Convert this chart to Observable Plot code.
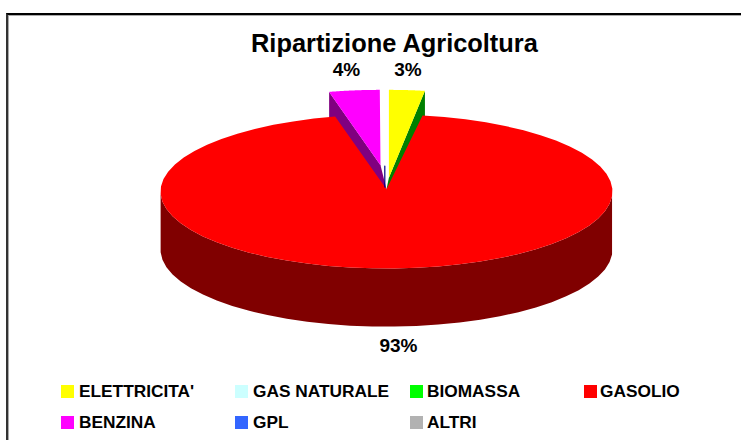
<!DOCTYPE html>
<html><head><meta charset="utf-8">
<script src="https://cdn.jsdelivr.net/npm/d3@7"></script>
<script src="https://cdn.jsdelivr.net/npm/@observablehq/plot@0.6"></script>
<style>
html,body{margin:0;padding:0;background:#fff;overflow:hidden}
body{width:741px;height:440px;position:relative;font-family:"Liberation Sans",Arial,sans-serif}
#frame{position:absolute;left:6px;top:13px;width:735px;height:427px;border-left:2px solid #333;border-top:2px solid #000;box-sizing:border-box;box-shadow:inset 1px 1px 0 #aaa}
#chart{position:absolute;left:0;top:0}
#legend{position:absolute;left:0;top:0;width:741px;height:440px;pointer-events:none}
.it{position:absolute;font-weight:bold;font-size:17.3px;line-height:18px;white-space:nowrap}
.sw{position:absolute;width:13px;height:13px}
</style></head><body>
<div id="frame"></div><div id="chart"></div><div id="legend"></div>
<script>
const categories=["ELETTRICITA'","GAS NATURALE","BIOMASSA","GASOLIO","BENZINA","GPL","ALTRI"];
const values=[2.55,0,0,93.8,3.6,0.05,0];
const faceColors=["#ffff00","#ccffff","#00ff00","#ff0000","#ff00ff","#3366ff","#b2b2b2"];
const wallColors=["#008000","#669999","#008000","#800000","#800080","#000080","#666666"];

const depth=0.755, W=741, H=440;
const explode={0:{dx:0.0106,dy:0.32,ay:0.18},4:{dx:-0.0265,dy:0.32,ay:0.34},5:{dx:-0.0075,dy:0.32,ay:0.33}};
const tip=[0,0.03];
const arcs=d3.pie().sort(null).value(d=>d)(values);
const pt=(a,o)=>[o.dx+Math.sin(a),o.dy+Math.cos(a)];
const polys=[];let pid=0;
function add(points,fill){pid++;points.forEach(p=>polys.push({x:p[0],y:p[1],id:pid,fill}));}
function rimOf(i,o){
  const a=arcs[i];
  const steps=d3.range(0,61).map(k=>a.startAngle+(a.endAngle-a.startAngle)*k/60);
  return {steps,rim:steps.map(t=>pt(t,o))};
}
// exploded small slices, behind the main one
[0,4].forEach(i=>{
  const o=explode[i],{rim}=rimOf(i,o),ap=[o.dx,o.ay];
  const outer=i===4?rim[0]:rim[rim.length-1];
  add([ap,outer,[outer[0],outer[1]-depth],tip],wallColors[i]);
  add([ap,...rim],faceColors[i]);
});
// main slice: wall then top face
{
  const o={dx:0,dy:0},{steps,rim}=rimOf(3,o);
  const low=steps.filter(t=>Math.cos(t)<=0).map(t=>pt(t,o));
  add([...low,...low.slice().reverse().map(p=>[p[0],p[1]-depth])],wallColors[3]);
  add([tip,...rim],faceColors[3]);
}
// GPL: only its thin wall can be seen
const gpl=explode[5];
const gplWall=[{x:gpl.dx,y:gpl.ay},{x:gpl.dx,y:tip[1]+0.03}];
const labels=[{t:"4%",x:-0.177,y:1.585},{t:"3%",x:0.095,y:1.585},{t:"93%",x:0.053,y:-2.0}];
const chart=Plot.plot({
  width:W,height:H,margin:0,
  x:{domain:[-1,1],range:[160,612],axis:null},
  y:{domain:[-1,1],range:[268,114],axis:null},
  style:{background:"transparent"},
  marks:[
    Plot.line(polys,{x:"x",y:"y",z:"id",fill:d=>d.fill,stroke:"none",curve:"linear-closed"}),
    Plot.line(gplWall,{x:"x",y:"y",stroke:wallColors[5],strokeWidth:1.2}),
    Plot.text(labels,{x:"x",y:"y",text:"t",fontSize:19,fontWeight:"bold",fontFamily:"Liberation Sans",fill:"#000"}),
    Plot.text(["Ripartizione Agricoltura"],{x:[0.035],y:[1.92],text:d=>d,fontSize:25.4,fontWeight:"bold",fontFamily:"Liberation Sans",fill:"#000"})
  ]
});
document.getElementById("chart").append(chart);
const colX=[61,235,410,584],rowY=[391,421.5],textX=[79,253,427,600];
const lg=document.getElementById("legend");
categories.forEach((c,i)=>{
  const col=i<4?i:i-4,row=i<4?0:1;
  const s=document.createElement("div");s.className="sw";s.style.cssText=`left:${colX[col]}px;top:${rowY[row]-6}px;background:${faceColors[i]}`;
  const t=document.createElement("div");t.className="it";t.textContent=c;t.style.cssText=`left:${textX[col]}px;top:${rowY[row]-9}px`;
  lg.append(s,t);
});
</script></body></html>
